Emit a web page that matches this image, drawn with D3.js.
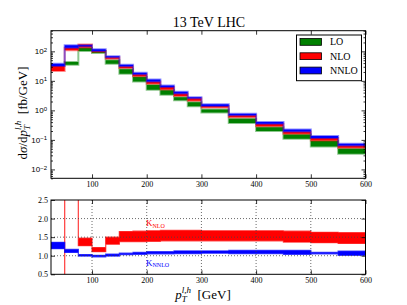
<!DOCTYPE html>
<html>
<head>
<meta charset="utf-8">
<script src="https://cdn.jsdelivr.net/npm/d3@7"></script>
<style>
  body { margin: 0; background: #fff; }
  svg { font-family: "Liberation Serif", "DejaVu Serif", serif; }
</style>
</head>
<body>
<svg width="407" height="305"></svg>
<script>
(function () {

  // bin edges in GeV
  var edges = [25, 50, 75, 100, 125, 150, 175, 200, 225, 250, 275, 300, 350, 400, 450, 500, 550, 600]

  // band lows / highs for each bin [fb/GeV]
  var loLow   = [null, 35.4, 102, 87.6, 38.3, 17.5, 9.6, 5.0, 3.4, 2.2, 1.37, 0.84, 0.37, 0.20, 0.11, 0.060, 0.034]
  var loHigh  = [null, 43.4, 129, 102, 49.5, 24.5, 13.5, 7.2, 4.8, 2.8, 1.9, 1.08, 0.52, 0.27, 0.153, 0.091, 0.050]
  var nloLow  = [21.5, 108, 136, 97.7, 56.5, 27.1, 14.2, 8.0, 5.1, 3.05, 2.1, 1.24, 0.58, 0.29, 0.160, 0.096, 0.054]
  var nloHigh = [31.8, 133, 169, 105.6, 62.6, 31.0, 16.6, 9.6, 6.2, 3.7, 2.55, 1.41, 0.68, 0.35, 0.193, 0.115, 0.065]
  var nnloLow  = [31.8, 133, 148, 102, 62.6, 31.0, 16.6, 9.6, 6.2, 3.7, 2.55, 1.41, 0.68, 0.35, 0.193, 0.115, 0.065]
  var nnloHigh = [38.3, 160, 160, 117, 67.7, 35.4, 19.0, 11.2, 7.0, 4.3, 2.8, 1.6, 0.77, 0.40, 0.227, 0.135, 0.074]

  // K factors
  var kNloLow   = [0, 3.3, 1.27, 1.11, 1.31, 1.38, 1.38, 1.39, 1.40, 1.40, 1.40, 1.40, 1.40, 1.40, 1.37, 1.35, 1.33]
  var kNloHigh  = [0, 3.5, 1.47, 1.22, 1.50, 1.65, 1.66, 1.67, 1.68, 1.68, 1.68, 1.67, 1.67, 1.67, 1.66, 1.63, 1.62]
  var kNnloLow  = [1.19, 1.09, 0.99, 0.97, 0.99, 1.03, 1.04, 1.05, 1.05, 1.06, 1.06, 1.07, 1.06, 1.06, 1.04, 1.05, 1.01]
  var kNnloHigh = [1.36, 1.17, 1.03, 1.01, 1.04, 1.07, 1.09, 1.11, 1.11, 1.13, 1.13, 1.13, 1.14, 1.14, 1.14, 1.09, 1.12]

  var xTicks = [100, 200, 300, 400, 500, 600]
  var logTicks = [0.01, 0.1, 1, 10, 100]
  var ratioTicks = [0.5, 1.0, 1.5, 2.0, 2.5]
  var legendNames = ['LO', 'NLO', 'NNLO']
  var colors = ['#008000', '#ff0000', '#0000ff']

  var svg = d3.select('svg')
  svg.append('rect').attr('width', 407).attr('height', 305).attr('fill', '#fff')

  var left = 51, right = 365.5
  var x = d3.scaleLinear().domain([25, 600]).range([left, right])
  var yTop = d3.scaleLog().domain([0.005, 500]).range([178.3, 30.7])
  var yBot = d3.scaleLinear().domain([0.5, 2.5]).range([274.3, 200])

  // turn bin arrays into step points (last value repeated at the last edge)
  function steps(lo, hi) {
    return edges.map(function (e, i) {
      var j = Math.min(i, lo.length - 1)
      return { x: e, lo: lo[j], hi: hi[j] }
    })
  }

  var defs = svg.append('defs')
  defs.append('clipPath').attr('id', 'clipTop').append('rect')
    .attr('x', left).attr('y', 30.7).attr('width', right - left).attr('height', 178.3 - 30.7)
  defs.append('clipPath').attr('id', 'clipBot').append('rect')
    .attr('x', left).attr('y', 200).attr('width', right - left).attr('height', 74.3)

  // ---------- top panel ----------
  var topG = svg.append('g').attr('clip-path', 'url(#clipTop)')
  var bands = [[loLow, loHigh], [nloLow, nloHigh], [nnloLow, nnloHigh]]

  var areaTop = d3.area()
    .defined(function (d) { return d.lo != null })
    .curve(d3.curveStepAfter)
    .x(function (d) { return x(d.x) })
    .y0(function (d) { return yTop(d.lo) })
    .y1(function (d) { return yTop(d.hi) })

  bands.forEach(function (b, i) {
    topG.append('path')
      .attr('d', areaTop(steps(b[0], b[1])))
      .attr('fill', colors[i])
      .attr('stroke', colors[i])
      .attr('stroke-opacity', 0.45)
      .attr('stroke-width', 2)
  })

  function styleAxis(g) {
    g.select('.domain').remove()
    g.selectAll('line').attr('stroke', '#000').attr('stroke-width', 0.8)
    g.selectAll('text').attr('font-family', '"Liberation Serif", serif').attr('font-size', 8).attr('fill', '#000')
  }

  var minorTicks = []
  for (var p = -3; p <= 2; p++) {
    for (var m = 2; m <= 9; m++) {
      var v = m * Math.pow(10, p)
      if (v >= 0.005 && v <= 500) minorTicks.push(v)
    }
  }

  // left log axis
  var yl = svg.append('g').attr('transform', 'translate(' + left + ',0)')
    .call(d3.axisLeft(yTop).tickValues(logTicks).tickSize(-4).tickPadding(4).tickFormat(''))
  styleAxis(yl)
  yl.selectAll('.tick').append('text')
    .attr('x', -4).attr('dy', '0.32em').attr('text-anchor', 'end')
    .attr('font-size', 8).attr('fill', '#000')
    .each(function (d) {
      var t = d3.select(this)
      t.append('tspan').text('10')
      t.append('tspan').attr('font-size', 6).attr('dy', '-0.45em').text(String(Math.round(Math.log10(d))).replace('-', '\u2212'))
    })
  var ylm = svg.append('g').attr('transform', 'translate(' + left + ',0)')
    .call(d3.axisLeft(yTop).tickValues(minorTicks).tickSize(-2).tickFormat(''))
  styleAxis(ylm)

  var yr = svg.append('g').attr('transform', 'translate(' + right + ',0)')
    .call(d3.axisRight(yTop).tickValues(logTicks).tickSize(-4).tickFormat(''))
  styleAxis(yr)
  var yrm = svg.append('g').attr('transform', 'translate(' + right + ',0)')
    .call(d3.axisRight(yTop).tickValues(minorTicks).tickSize(-2).tickFormat(''))
  styleAxis(yrm)

  var xb = svg.append('g').attr('transform', 'translate(0,178.3)')
    .call(d3.axisBottom(x).tickValues(xTicks).tickSize(-4).tickPadding(3))
  styleAxis(xb)
  var xt = svg.append('g').attr('transform', 'translate(0,30.7)')
    .call(d3.axisTop(x).tickValues(xTicks).tickSize(-4).tickFormat(''))
  styleAxis(xt)

  svg.append('rect').attr('x', left).attr('y', 30.7).attr('width', right - left).attr('height', 178.3 - 30.7)
    .attr('fill', 'none').attr('stroke', '#000').attr('stroke-width', 1)

  // title
  svg.append('text').attr('x', 209).attr('y', 26.5).attr('text-anchor', 'middle')
    .attr('font-size', 14).text('13 TeV LHC')

  // y label
  var yLab = svg.append('text')
    .attr('transform', 'translate(27,113) rotate(-90)')
    .attr('text-anchor', 'middle').attr('font-size', 13)
  yLab.append('tspan').text('d')
  yLab.append('tspan').attr('font-style', 'italic').text('\u03c3')
  yLab.append('tspan').text('/d')
  yLab.append('tspan').attr('font-style', 'italic').text('p')
  yLab.append('tspan').attr('font-style', 'italic').attr('font-size', 9).attr('dy', 3).text('T')
  yLab.append('tspan').attr('font-style', 'italic').attr('font-size', 9).attr('dx', -5).attr('dy', -9).text('l,h')
  yLab.append('tspan').attr('dy', 6).text('\u00a0\u00a0[fb/GeV]')

  // legend
  var lg = svg.append('g')
  lg.append('rect').attr('x', 296.5).attr('y', 35).attr('width', 65).attr('height', 45.7)
    .attr('fill', '#fff').attr('stroke', '#000').attr('stroke-width', 1)
  legendNames.forEach(function (n, i) {
    var yy = 38.5 + i * 14.3
    lg.append('rect').attr('x', 300).attr('y', yy).attr('width', 21.5).attr('height', 6.8)
      .attr('fill', colors[i]).attr('stroke', '#000').attr('stroke-width', 0.8)
    lg.append('text').attr('x', 330).attr('y', yy + 6.8).attr('font-size', 10).text(n)
  })

  // ---------- bottom panel ----------
  var botG = svg.append('g').attr('clip-path', 'url(#clipBot)')

  var areaBot = d3.area()
    .curve(d3.curveStepAfter)
    .x(function (d) { return x(d.x) })
    .y0(function (d) { return yBot(d.lo) })
    .y1(function (d) { return yBot(d.hi) })

  var kBands = [[kNloLow, kNloHigh], [kNnloLow, kNnloHigh]]
  kBands.forEach(function (b, i) {
    botG.append('path')
      .attr('d', areaBot(steps(b[0], b[1])))
      .attr('fill', colors[i + 1])
      .attr('stroke', colors[i + 1])
      .attr('stroke-opacity', 0.7)
      .attr('stroke-width', 1.3)
  })

  // grid on top of the bands
  var grid = svg.append('g')
  grid.selectAll('.gx').data(xTicks.slice(0, 5)).enter().append('line')
    .attr('x1', function (d) { return x(d) }).attr('x2', function (d) { return x(d) })
    .attr('y1', 200).attr('y2', 274.3)
  grid.selectAll('.gy').data([1.0, 1.5, 2.0]).enter().append('line')
    .attr('x1', left).attr('x2', right)
    .attr('y1', function (d) { return yBot(d) }).attr('y2', function (d) { return yBot(d) })
  grid.selectAll('line').attr('stroke', '#444').attr('stroke-width', 0.8).attr('stroke-dasharray', '1,2')

  var byl = svg.append('g').attr('transform', 'translate(' + left + ',0)')
    .call(d3.axisLeft(yBot).tickValues(ratioTicks).tickSize(-4).tickPadding(3).tickFormat(d3.format('.1f')))
  styleAxis(byl)
  var byr = svg.append('g').attr('transform', 'translate(' + right + ',0)')
    .call(d3.axisRight(yBot).tickValues(ratioTicks).tickSize(-4).tickFormat(''))
  styleAxis(byr)
  var bxb = svg.append('g').attr('transform', 'translate(0,274.3)')
    .call(d3.axisBottom(x).tickValues(xTicks).tickSize(-4).tickPadding(3))
  styleAxis(bxb)
  var bxt = svg.append('g').attr('transform', 'translate(0,200)')
    .call(d3.axisTop(x).tickValues(xTicks).tickSize(-4).tickFormat(''))
  styleAxis(bxt)

  svg.append('rect').attr('x', left).attr('y', 200).attr('width', right - left).attr('height', 74.3)
    .attr('fill', 'none').attr('stroke', '#000').attr('stroke-width', 1)

  // K labels
  var kn = svg.append('text').attr('x', 146).attr('y', 226).attr('fill', '#ff0000').attr('font-size', 9)
  kn.append('tspan').text('K')
  kn.append('tspan').attr('font-size', 6).attr('dy', 1.5).text('NLO')
  var knn = svg.append('text').attr('x', 146).attr('y', 265.5).attr('fill', '#0000ff').attr('font-size', 9)
  knn.append('tspan').text('K')
  knn.append('tspan').attr('font-size', 6).attr('dy', 1.5).text('NNLO')

  // x label
  var xLab = svg.append('text').attr('x', 203).attr('y', 299).attr('text-anchor', 'middle').attr('font-size', 13)
  xLab.append('tspan').attr('font-style', 'italic').text('p')
  xLab.append('tspan').attr('font-style', 'italic').attr('font-size', 9).attr('dy', 3).text('T')
  xLab.append('tspan').attr('font-style', 'italic').attr('font-size', 9).attr('dx', -5).attr('dy', -9).text('l,h')
  xLab.append('tspan').attr('dy', 6).text('\u00a0\u00a0[GeV]')

})()
</script>
</body>
</html>
